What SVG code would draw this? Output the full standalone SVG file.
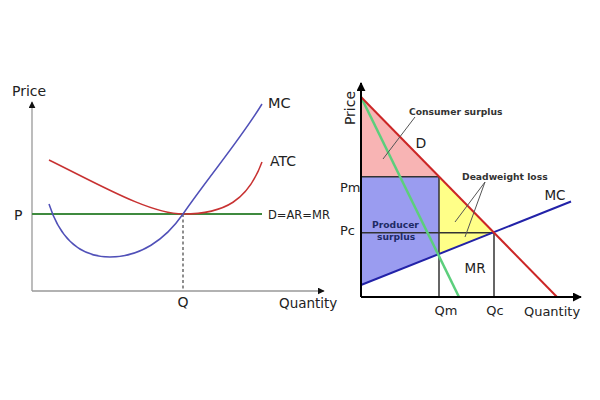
<svg xmlns="http://www.w3.org/2000/svg" width="600" height="400" viewBox="0 0 600 400">
<defs>
<marker id="arrG" viewBox="0 0 10 10" refX="9" refY="5" markerWidth="7" markerHeight="7" orient="auto" markerUnits="userSpaceOnUse"><path d="M0,0 L10,5 L0,10 z" fill="#111"/></marker>
<marker id="arrB" viewBox="0 0 10 10" refX="9" refY="5" markerWidth="9" markerHeight="9" orient="auto" markerUnits="userSpaceOnUse"><path d="M0,0 L10,5 L0,10 z" fill="#000"/></marker>
<style>
.t{font-family:"DejaVu Sans",sans-serif;fill:#222}
.b{font-family:"DejaVu Sans",sans-serif;font-weight:bold;font-size:9.2px;fill:#333}
.ax1{stroke:#999;stroke-width:1.3;fill:none}
.ax2{stroke:#000;stroke-width:2;fill:none}
.k{stroke:#333;stroke-width:1.5;fill:none}
.lead{stroke:#555;stroke-width:1;fill:none}
</style>
</defs>
<rect width="600" height="400" fill="#fff"/>

<g id="left-chart">
<g id="left-axes">
<line class="ax1" x1="32" y1="291" x2="32" y2="102" marker-end="url(#arrG)"/>
<line class="ax1" x1="32" y1="291" x2="324" y2="291" marker-end="url(#arrG)"/>
<text class="t" x="12" y="96" font-size="14">Price</text>
<text class="t" x="279" y="308" font-size="13.5">Quantity</text>
<text class="t" x="14" y="220" font-size="14">P</text>
<text class="t" x="183" y="307" font-size="14" text-anchor="middle">Q</text>
</g>
<g id="left-curves">
<line x1="183" y1="214" x2="183" y2="291" stroke="#444" stroke-width="1.2" stroke-dasharray="3,2.5"/>
<line x1="32" y1="214" x2="262" y2="214" stroke="#3f8a3f" stroke-width="1.8"/>
<path d="M49,160 C100,185 150,214 183,214 C225,214 248,200 262,162" stroke="#c83232" stroke-width="1.5" fill="none"/>
<path d="M49,204 C62,245 85,257 110,257 C140,257 165,240 183,214 C210,175 240,140 262,104" stroke="#5050b8" stroke-width="1.5" fill="none"/>
</g>
<g id="left-labels">
<text class="t" x="268" y="108" font-size="14.5">MC</text>
<text class="t" x="270" y="166" font-size="14">ATC</text>
<text class="t" x="268" y="219" font-size="11.5">D=AR=MR</text>
</g>
</g>

<g id="right-chart">
<g id="areas">
<polygon id="consumer-surplus" points="361,97 439,176.7 361,176.7" fill="#f8b4b4"/>
<polygon id="producer-surplus" points="361,176.7 439,176.7 439,254 361,285" fill="#9a9cf0"/>
<polygon id="deadweight-loss" points="439,176.7 494,232.7 439,254" fill="#ffff88"/>
</g>
<g id="connectors">
<line class="k" x1="361" y1="176.7" x2="439" y2="176.7"/>
<line class="k" x1="439" y1="176.7" x2="439" y2="297"/>
<line class="k" x1="361" y1="232.7" x2="494" y2="232.7"/>
<line class="k" x1="494" y1="232.7" x2="494" y2="297"/>
<line x1="361" y1="285" x2="571" y2="201.5" stroke="#2222a8" stroke-width="2"/>
<line x1="361" y1="97" x2="459" y2="297" stroke="#5ccf7c" stroke-width="2.5"/>
<line x1="361" y1="97" x2="557" y2="297" stroke="#cc2626" stroke-width="2"/>
<line class="lead" x1="415" y1="117" x2="383" y2="159"/>
<line class="lead" x1="485" y1="182" x2="455" y2="222"/>
<line class="lead" x1="485" y1="182" x2="465" y2="237"/>
</g>
<g id="right-axes">
<line class="ax2" x1="361" y1="297" x2="361" y2="83" marker-end="url(#arrB)"/>
<line class="ax2" x1="361" y1="297" x2="581" y2="297" marker-end="url(#arrB)"/>
<text class="t" x="0" y="0" font-size="14" text-anchor="middle" transform="translate(355,108) rotate(-90)">Price</text>
<text class="t" x="552" y="316" font-size="13" text-anchor="middle">Quantity</text>
<text class="t" x="446" y="315" font-size="13" text-anchor="middle">Qm</text>
<text class="t" x="495" y="315" font-size="13" text-anchor="middle">Qc</text>
<text class="t" x="340" y="192" font-size="13">Pm</text>
<text class="t" x="340" y="235" font-size="13">Pc</text>
</g>
<g id="right-labels">
<text class="t" x="421" y="148" font-size="14" text-anchor="middle">D</text>
<text class="t" x="555" y="200" font-size="13.5" text-anchor="middle">MC</text>
<text class="t" x="475" y="273" font-size="13.5" text-anchor="middle">MR</text>
<text class="b" x="409" y="115">Consumer surplus</text>
<text class="b" x="462" y="180">Deadweight loss</text>
<text class="b" x="372" y="228" fill="#1d2a66" style="fill:#1d2a66">Producer</text>
<text class="b" x="377" y="240" style="fill:#1d2a66">surplus</text>
</g>
</g>
</svg>
